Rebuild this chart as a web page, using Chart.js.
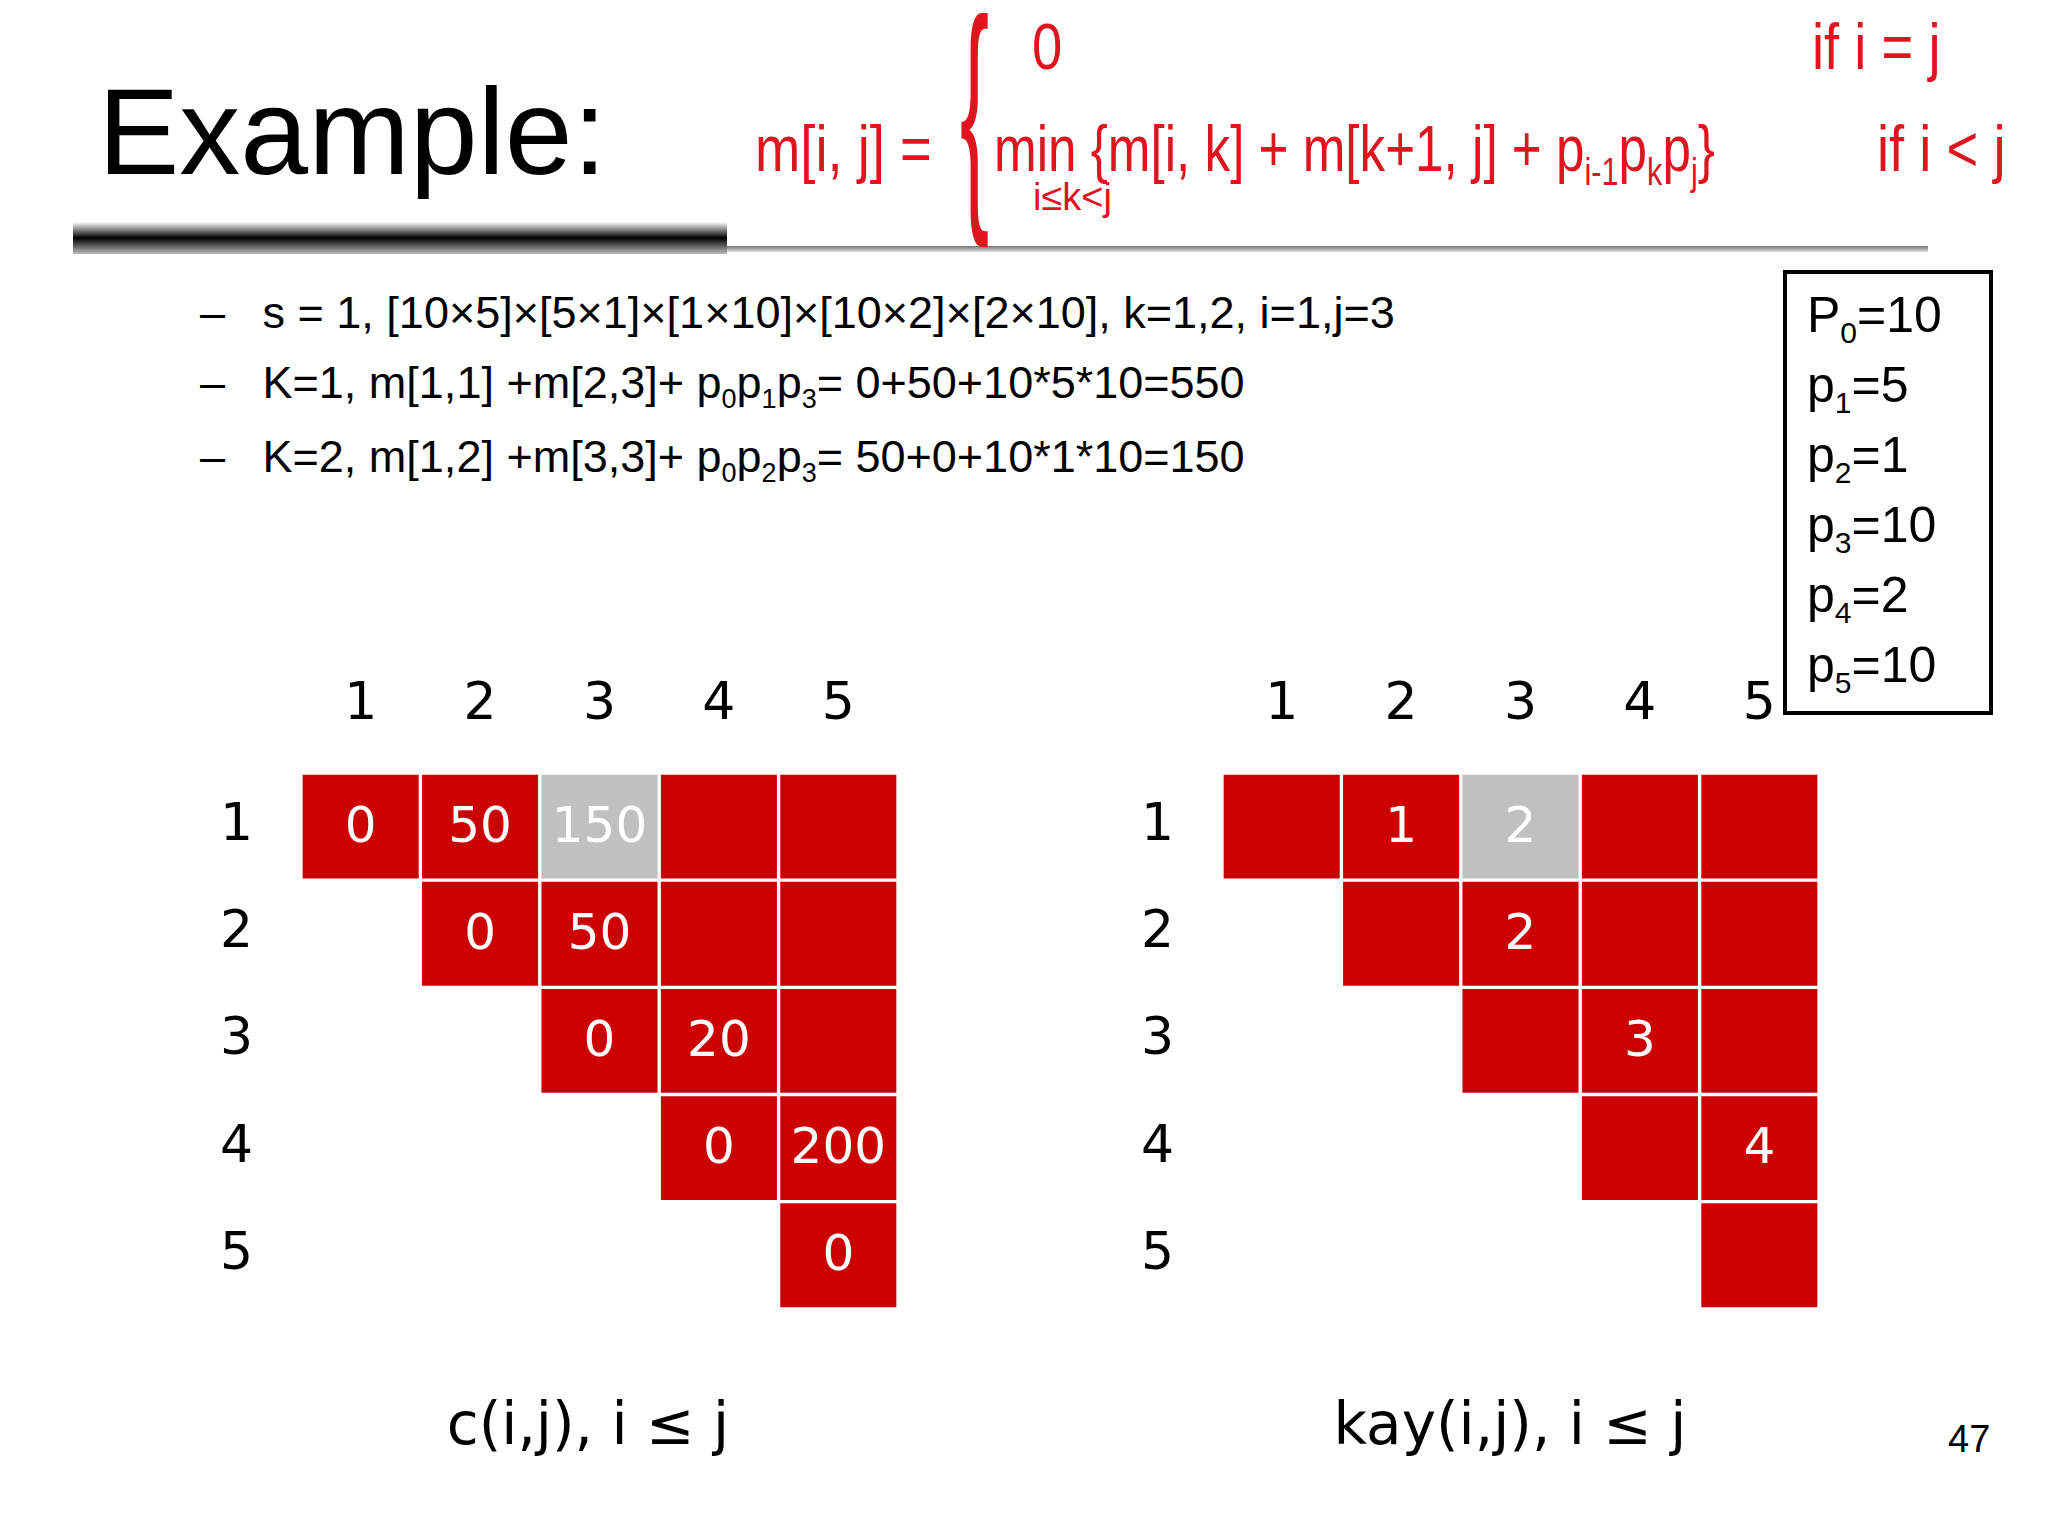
<!DOCTYPE html>
<html><head><meta charset="utf-8">
<script src="https://cdn.jsdelivr.net/npm/chart.js@4/dist/chart.umd.min.js"></script>
<style>
body{margin:0;width:2048px;height:1536px;background:#fff;position:relative;overflow:hidden;font-family:"Liberation Sans",Arial,sans-serif}
.a{position:absolute;white-space:nowrap}
.red{color:#e0141e;font-family:"Liberation Sans Narrow","Liberation Sans",sans-serif;transform-origin:left top}
canvas{position:absolute}
sub{font-size:60%;line-height:0}
</style></head><body>
<div class="a" style="left:98px;top:62px;font-size:122px;">Example:</div>
<div class="a" style="left:73px;top:222px;width:654px;height:32px;background:linear-gradient(#fff,#000 50%,#bbb)"></div>
<div class="a" style="left:727px;top:246px;width:1201px;height:6px;background:linear-gradient(#777,#ddd)"></div>
<div class="a red" style="left:1032px;top:10px;font-size:64px;transform:scaleX(0.85)">0</div>
<div class="a red" style="left:1812px;top:10px;font-size:64px;transform:scaleX(0.85)">if i = j</div>
<div class="a red" style="left:755px;top:112px;font-size:64px;transform:scaleX(0.85)">m[i, j] =</div>
<div class="a red" style="left:960px;top:-35px;font-size:250px;transform:scaleX(0.35);font-weight:100">{</div>
<div class="a red" style="left:994px;top:112px;font-size:64px;transform:scaleX(0.8)">min {m[i, k] + m[k+1, j] + p<sub>i-1</sub>p<sub>k</sub>p<sub>j</sub>}</div>
<div class="a red" style="left:1877px;top:112px;font-size:64px;transform:scaleX(0.85)">if i &lt; j</div>
<div class="a red" style="left:1033px;top:176px;font-size:38px">i≤k&lt;j</div>
<div class="a" style="left:200px;top:278px;font-size:45px;line-height:70px">
<div>–&nbsp;&nbsp;&nbsp;s = 1, [10×5]×[5×1]×[1×10]×[10×2]×[2×10], k=1,2, i=1,j=3</div>
<div>–&nbsp;&nbsp;&nbsp;K=1, m[1,1] +m[2,3]+ p<sub>0</sub>p<sub>1</sub>p<sub>3</sub>= 0+50+10*5*10=550</div>
<div style="margin-top:4px">–&nbsp;&nbsp;&nbsp;K=2, m[1,2] +m[3,3]+ p<sub>0</sub>p<sub>2</sub>p<sub>3</sub>= 50+0+10*1*10=150</div>
</div>
<div class="a" style="left:1783px;top:270px;width:210px;height:445px;border:4px solid #000;font-size:50px;line-height:70px;padding-left:20px;box-sizing:border-box;padding-top:6px">
P<sub>0</sub>=10<br>p<sub>1</sub>=5<br>p<sub>2</sub>=1<br>p<sub>3</sub>=10<br>p<sub>4</sub>=2<br>p<sub>5</sub>=10</div>
<canvas id="c1" style="left:200px;top:650px;width:720px;height:730px"></canvas>
<canvas id="c2" style="left:1121px;top:650px;width:720px;height:730px"></canvas>
<div class="a" style="left:588px;top:1390px;transform:translateX(-50%);font-family:'DejaVu Sans';font-size:58px">c(i,j), i ≤ j</div>
<div class="a" style="left:1510px;top:1390px;transform:translateX(-50%);font-family:'DejaVu Sans';font-size:58px">kay(i,j), i ≤ j</div>
<div class="a" style="left:1948px;top:1418px;font-size:38px">47</div>
<script>
const cols=['1','2','3','4','5'];
const rows=[1,2,3,4,5];
const cLabels=[
 ['0','50','150','',''],
 [null,'0','50','',''],
 [null,null,'0','20',''],
 [null,null,null,'0','200'],
 [null,null,null,null,'0']];
const kLabels=[
 ['','1','2','',''],
 [null,'','2','',''],
 [null,null,'','3',''],
 [null,null,null,'','4'],
 [null,null,null,null,'']];
const highlight=[1,3];
const RED='#cc0000',GRAY='#c0c0c0';
const F={family:'DejaVu Sans',size:52};
const textPlugin={id:'txt',afterDatasetsDraw(ch){
 const ctx=ch.ctx;ctx.save();ctx.fillStyle='#fff';ctx.font='50px "DejaVu Sans"';ctx.textAlign='center';ctx.textBaseline='middle';
 ch.data.datasets.forEach((ds,di)=>{ch.getDatasetMeta(di).data.forEach((el,j)=>{
  const t=ds.labelsTxt[j]; if(!t) return;
  const p=el.getProps(['x','y','base'],true);
  ctx.fillText(t,p.x,(p.y+p.base)/2+2);});});
 ctx.restore();}};
function make(id,labels){
 const datasets=rows.map((r,i)=>({
  data:labels[i].map(v=>v===null?null:[r-0.5,r+0.5]),
  labelsTxt:labels[i],
  backgroundColor:labels[i].map((v,j)=>(r===highlight[0]&&j+1===highlight[1])?GRAY:RED),
  borderColor:'#fff',borderWidth:2,borderSkipped:false,
  barPercentage:1,categoryPercentage:1,grouped:false}));
 new Chart(document.getElementById(id),{type:'bar',data:{labels:cols,datasets},
  plugins:[textPlugin],
  options:{responsive:false,maintainAspectRatio:false,animation:false,devicePixelRatio:1,
   layout:{padding:{right:22,bottom:11}},
   plugins:{legend:{display:false},tooltip:{enabled:false}},
   scales:{
    x:{position:'top',grid:{display:false},border:{display:false},ticks:{color:'#000',font:F,padding:28},afterFit:s=>{s.height=123;}},
    y:{min:0.5,max:5.5,reverse:true,grid:{display:false},border:{display:false},
       afterBuildTicks:s=>{s.ticks=rows.map(v=>({value:v}));},
       ticks:{color:'#000',font:F,padding:40,callback:v=>String(v)},afterFit:s=>{s.width=101;}}}}});
}
make('c1',cLabels);make('c2',kLabels);
</script></body></html>
